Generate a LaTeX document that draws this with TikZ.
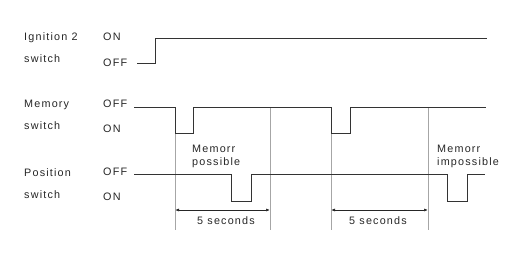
\documentclass[tikz,border=0pt]{standalone}
\usepackage{fontspec}
\setmainfont{Liberation Sans}
\newfontfamily\chartfont[LetterSpace=11]{Liberation Sans}
\usetikzlibrary{arrows.meta}

\begin{document}
\begin{tikzpicture}[x=1pt,y=-1pt]
        \tikzset{lbl/.style={anchor=west, inner sep=0pt, align=left, font=\chartfont\fontsize{10.8}{13.5}\selectfont, text=black!85},
                 signame/.style={lbl, font=\chartfont\fontsize{10.8}{21.5}\selectfont},
                 sig/.style={draw=black!80, line width=0.9pt},
                 guide/.style={draw=black!35, line width=0.6pt},
                 span/.style={{Latex[length=4pt, width=3pt]}-{Latex[length=4pt, width=3pt]}, draw=black!85, line width=0.7pt}}
        \useasboundingbox (0,0) rectangle (514,259);

        % signal names
        \node[signame] (ign) at (24,47.5) {Ignition 2\\switch};
        \node[signame] (mem) at (24,115) {Memory\\switch};
        \node[signame] (pos) at (24,183.5) {Position\\switch};

        % levels
        \node[lbl] (ignon) at (103,37) {ON};
        \node[lbl] (ignoff) at (103,63) {OFF};
        \node[lbl] (memoff) at (103,104) {OFF};
        \node[lbl] (memon) at (103,129) {ON};
        \node[lbl] (posoff) at (103,172) {OFF};
        \node[lbl] (poson) at (103,197) {ON};

        % guides
        \draw[guide] (175,133) -- (175,230);
        \draw[guide] (270,107) -- (270,230);
        \draw[guide] (331,133) -- (331,230);
        \draw[guide] (428,107) -- (428,230);

        % waveforms
        \draw[sig] (137,63) -- (155,63) -- (155,38) -- (487,38);
        \draw[sig] (134,107) -- (175,107) -- (175,133) -- (193,133) -- (193,107)
                -- (331,107) -- (331,133) -- (350,133) -- (350,107) -- (486,107);
        \draw[sig] (134,174) -- (231,174) -- (231,201) -- (251,201) -- (251,174)
                -- (447,174) -- (447,201) -- (467,201) -- (467,174) -- (485,174);

        % notes
        \node[lbl] (ok) at (192,156.5) {Memorr\\possible};
        \node[lbl] (nok) at (437,156.5) {Memorr\\impossible};

        % 5 second spans
        \coordinate (a1) at (175,210);
        \coordinate (b1) at (270,210);
        \coordinate (a2) at (331,210);
        \coordinate (b2) at (428,210);
        \draw[span] (a1) -- (b1);
        \draw[span] (a2) -- (b2);
        \node[lbl, anchor=center] (t1) at (226,221) {5 seconds};
        \node[lbl, anchor=center] (t2) at (378,221) {5 seconds};
\end{tikzpicture}
\end{document}
